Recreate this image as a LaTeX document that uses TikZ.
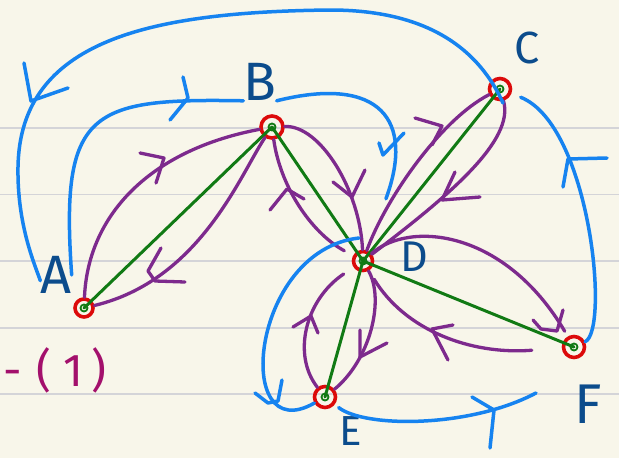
\documentclass[tikz,border=0pt]{standalone}
\usepackage{fontspec}
\setmainfont{Fira Sans}
\usetikzlibrary{calc}
\definecolor{paper}{HTML}{F8F6EA}
\definecolor{ruleline}{HTML}{D4D4D8}
\definecolor{hblue}{HTML}{1683F0}
\definecolor{hpurple}{HTML}{7D2A8D}
\definecolor{hgreen}{HTML}{117A14}
\definecolor{hred}{HTML}{DC0A0A}
\definecolor{lblue}{HTML}{0C4C8C}
\definecolor{hmag}{HTML}{A3106C}
\tikzset{
  vtx/.style={circle,draw=hred,line width=3.6pt,minimum size=18pt,inner sep=0pt},
  gring/.style={circle,draw=hgreen,line width=1.8pt,minimum size=7pt,inner sep=0pt},
  lbl/.style={text=lblue,inner sep=0pt},
  gedge/.style={draw=hgreen,line width=3pt},
  pcurve/.style={color=hpurple,line width=3.3pt},
  bcurve/.style={color=hblue,line width=3.5pt},
}
\begin{document}
\begin{tikzpicture}[x=1pt,y=-1pt,line cap=round,line join=round]
\fill[paper] (0,0) rectangle (619,458);
\useasboundingbox (0,0) rectangle (619,458);
\foreach \yy in {128,194.5,261,328,394} \draw[ruleline,line width=1.6pt] (0,\yy) -- (619,\yy);

% vertices
\node[vtx] (A) at (84,308) {};
\node[vtx,minimum size=22pt] (B) at (272,127) {};
\node[vtx,minimum size=21pt] (C) at (500,89) {};
\node[vtx,minimum size=19pt] (D) at (363,261) {};
\node[vtx,minimum size=21pt] (E) at (325,397) {};
\node[vtx,minimum size=21pt] (F) at (574,347) {};

% labels
\node[lbl,font=\fontsize{54}{54}\selectfont] (lA) at (56,275) {A};
\node[lbl,font=\fontsize{54}{54}\selectfont] (lB) at (260,82) {B};
\node[lbl,font=\fontsize{45}{45}\selectfont] (lC) at (527,48) {C};
\node[lbl,font=\fontsize{43}{43}\selectfont] (lD) at (414,257) {D};
\node[lbl,font=\fontsize{42}{42}\selectfont] (lE) at (351,431) {E};
\node[lbl,font=\fontsize{56}{56}\selectfont] (lF) at (588,404) {F};
\node[text=hmag,inner sep=0pt,font=\fontsize{46}{46}\selectfont] (one) at (55,370) {-\hspace{14pt}(\hspace{12pt}1\hspace{8pt})};

% green edges
\draw[gedge] (A.center) -- (B.center);
\draw[gedge] (B.center) -- (D.center);
\draw[gedge] (C.center) -- (D.center);
\draw[gedge] (D.center) -- (E.center);
\draw[gedge] (D.center) -- (F.center);

% purple curves
\draw[pcurve] (A) .. controls (88,215) and (150,150) .. (B);
\draw[pcurve] (B) .. controls (240,175) and (200,280) .. (A);
\draw[pcurve] (B) .. controls (320,125) and (360,190) .. (D);
\draw[pcurve,shorten <=10pt] (D) .. controls (310,232) and (280,185) .. (B);
\draw[pcurve] (D) .. controls (385,200) and (440,120) .. (C);
\draw[pcurve] (C) .. controls (515,140) and (450,195) .. (D);
\draw[pcurve,shorten >=6pt] (D) .. controls (410,220) and (505,230) .. (F);
\draw[pcurve,shorten <=30pt,shorten >=10pt] (F) .. controls (470,355) and (405,330) .. (D);
\draw[pcurve] (D) .. controls (385,300) and (370,360) .. (E);
\draw[pcurve,shorten >=12pt] (E) .. controls (292,355) and (305,300) .. (D);

% purple arrow marks
\draw[pcurve] (140,153) -- (164,158) -- (156,183);
\draw[pcurve] (161,248) -- (148,271) -- (155,281) -- (185,282);
\draw[pcurve] (333,182) -- (352,197) -- (365,170);
\draw[pcurve] (270,210) -- (287,189) -- (304,199);
\draw[pcurve] (415,118) -- (442,126) -- (432,145);
\draw[pcurve] (455,172) -- (442,200) -- (480,197);
\draw[pcurve] (533,320) -- (541,329) -- (557,331) -- (563,310);
\draw[pcurve] (453,325) -- (432,329) -- (448,360);
\draw[pcurve] (360,330) -- (360,357) -- (387,343);
\draw[pcurve] (293,327) -- (311,316) -- (318,333);

% inner green marks
\node[gring] (gA) at (A) {};
\node[gring] (gB) at (B) {};
\node[gring] (gC) at (C) {};
\node[gring] (gD) at (D) {};
\node[gring] (gE) at (E) {};
\node[gring] (gF) at (F) {};

% blue curves
\coordinate (t1) at (330,10);
\coordinate (t2) at (18,167);
\draw[bcurve] ($(C)+(3,14)$) .. controls (470,30) and (400,10) .. (t1)
   .. controls (150,12) and (20,40) .. (t2) .. controls (17,225) and (35,265) .. (lA.200);
\draw[bcurve] (lA.east) .. controls (60,110) and (90,98) .. (lB.south west);
\draw[bcurve,shorten >=55pt] (lB.south east) .. controls (380,75) and (415,120) .. (D);
\draw[bcurve,shorten <=10pt] (C) .. controls (590,125) and (610,330) .. (F);
\draw[bcurve] ($(D)+(-4,-23)$) .. controls (250,250) and (232,450) .. (E);
\draw[bcurve,shorten <=5pt] (E) .. controls (365,428) and (470,428) .. ($(F)+(-38,46)$);

% blue arrow marks
\draw[bcurve] (24,63) -- (31,101) -- (68,88);
\draw[bcurve] (183,77) -- (188,98) -- (170,120);
\draw[bcurve] (379,143) -- (383,155) -- (404,133);
\draw[bcurve] (563,187) -- (568,159) -- (607,158);
\draw[bcurve] (255,393) -- (268,403) -- (278,401) -- (282,380);
\draw[bcurve] (472,397) -- (494,410) -- (490,448);
\end{tikzpicture}
\end{document}
